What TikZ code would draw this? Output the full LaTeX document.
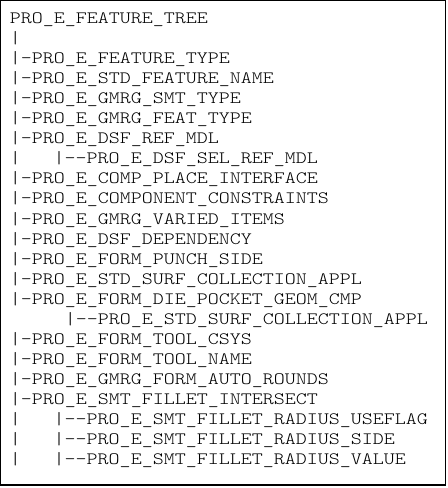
\documentclass[tikz,border=0pt]{standalone}
\tikzset{treeline/.style={anchor=base west,inner sep=0pt,font=\fontfamily{lmtt}\fontseries{l}\fontsize{13}{15}\selectfont}}
\newcommand\gap[1]{\hspace*{#1em}}
\newcommand\wide[1]{\scalebox{1.2088}[1]{#1}}
\begin{document}
\begin{tikzpicture}[x=0.75pt,y=-0.75pt]
\useasboundingbox (0,0) rectangle (447,488);
\draw[line width=1pt] (0.5,0.5) rectangle (445.5,485);
\foreach \i/\txt in {
  1/{PRO\_E\_FEATURE\_TREE},
  2/{|},
  3/{|-PRO\_E\_FEATURE\_TYPE},
  4/{|-PRO\_E\_STD\_FEATURE\_NAME},
  5/{|-PRO\_E\_GMRG\_SMT\_TYPE},
  6/{|-PRO\_E\_GMRG\_FEAT\_TYPE},
  7/{|-PRO\_E\_DSF\_REF\_MDL},
  8/{|\gap{1.575}|-{}-PRO\_E\_DSF\_SEL\_REF\_MDL},
  9/{|-PRO\_E\_COMP\_PLACE\_INTERFACE},
  10/{|-PRO\_E\_COMPONENT\_CONSTRAINTS},
  11/{|-PRO\_E\_GMRG\_VARIED\_ITEMS},
  12/{|-PRO\_E\_DSF\_DEPENDENCY},
  13/{|-PRO\_E\_FORM\_PUNCH\_SIDE},
  14/{|-PRO\_E\_STD\_SURF\_COLLECTION\_APPL},
  15/{|-PRO\_E\_FORM\_DIE\_POCKET\_GEOM\_CMP},
  16/{\gap{2.625}|-{}-PRO\_E\_STD\_SURF\_COLLECTION\_APPL},
  17/{|-PRO\_E\_FORM\_TOOL\_CSYS},
  18/{|-PRO\_E\_FORM\_TOOL\_NAME},
  19/{|-PRO\_E\_GMRG\_FORM\_AUTO\_ROUNDS},
  20/{|-PRO\_E\_SMT\_FILLET\_INTERSECT},
  21/{|\gap{1.575}|-{}-PRO\_E\_SMT\_FILLET\_RADIUS\_USEFLAG},
  22/{|\gap{1.575}|-{}-PRO\_E\_SMT\_FILLET\_RADIUS\_SIDE},
  23/{|\gap{1.575}|-{}-PRO\_E\_SMT\_FILLET\_RADIUS\_VALUE}}
  \node[treeline] (l\i) at (9.5,{24+20*(\i-1)}) {\wide{\txt}};
\end{tikzpicture}
\end{document}
